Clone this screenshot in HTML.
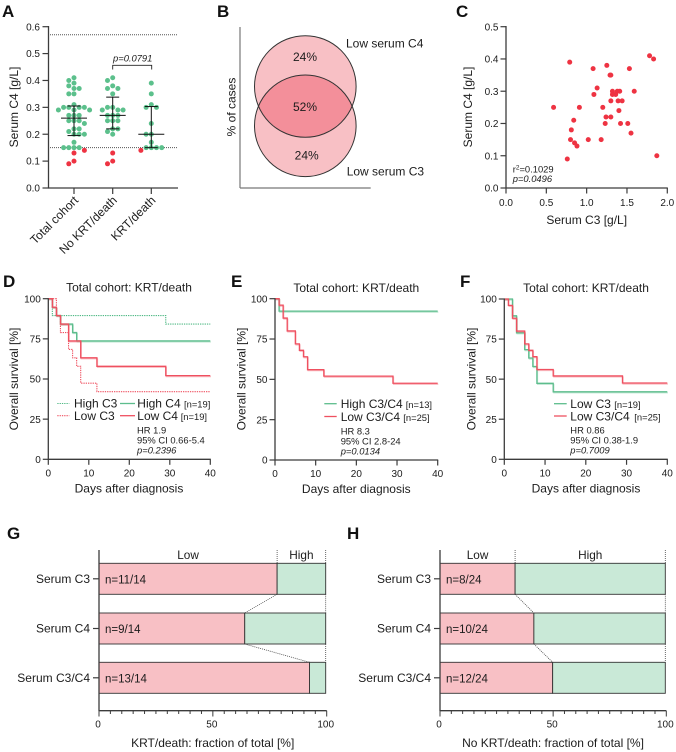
<!DOCTYPE html>
<html lang="en">
<head>
<meta charset="utf-8">
<title>Serum C3 and C4 figure</title>
<style>
html,body{margin:0;padding:0;background:#fff;}
svg{display:block;font-family:"Liberation Sans",Arial,sans-serif;fill:#1c1c1c;}
.letter{font-size:17px;font-weight:bold;fill:#111;}
.t12{font-size:12px;}
.t9{font-size:9.4px;}
.it{font-style:italic;}
</style>
</head>
<body>
<svg id="fig" width="676" height="752" viewBox="0 0 676 752" xmlns="http://www.w3.org/2000/svg">
  <text class="letter" x="2" y="17">A</text>
  <text class="letter" x="217" y="17">B</text>
  <text class="letter" x="456" y="17">C</text>
  <text class="letter" x="3" y="287">D</text>
  <text class="letter" x="231" y="287">E</text>
  <text class="letter" x="460" y="287">F</text>
  <text class="letter" x="7" y="539">G</text>
  <text class="letter" x="347" y="539">H</text>

  <g id="panel-a">
    <text class="t12" transform="translate(18,107) rotate(-90)" text-anchor="middle">Serum C4 [g/L]</text>
    <text class="t9 it" x="132.7" y="61.5" text-anchor="middle">p=0.0791</text>
  </g>

  <g id="panel-b">
    <text class="t12" transform="translate(235.5,107) rotate(-90)" text-anchor="middle">% of cases</text>
    <line x1="240" y1="27" x2="240" y2="188" stroke="#777" stroke-width="1.2"/>
    <line x1="240" y1="188" x2="370.7" y2="188" stroke="#777" stroke-width="1.2"/>
    <circle cx="305.3" cy="86.5" r="50.8" fill="#f8c0c5"/>
    <circle cx="305.3" cy="125.8" r="50.8" fill="#f8c0c5"/>
    <clipPath id="vennClip"><circle cx="305.3" cy="86.5" r="50.8"/></clipPath>
    <circle cx="305.3" cy="125.8" r="50.8" fill="#f38f9a" clip-path="url(#vennClip)"/>
    <circle cx="305.3" cy="86.5" r="50.8" fill="none" stroke="#333" stroke-width="1"/>
    <circle cx="305.3" cy="125.8" r="50.8" fill="none" stroke="#333" stroke-width="1"/>
    <text class="t12" x="305" y="61" text-anchor="middle">24%</text>
    <text class="t12" x="305" y="111" text-anchor="middle">52%</text>
    <text class="t12" x="306.7" y="159.5" text-anchor="middle">24%</text>
    <text class="t12" x="346" y="47.5">Low serum C4</text>
    <text class="t12" x="346.7" y="175.5">Low serum C3</text>
  </g>

  <g id="panel-c">
    <text class="t12" transform="translate(472,107) rotate(-90)" text-anchor="middle">Serum C4 [g/L]</text>
    <text class="t12" x="586.7" y="224" text-anchor="middle">Serum C3 [g/L]</text>
    <text class="t9" x="512.7" y="172.5">r<tspan dy="-3" font-size="6.5">2</tspan><tspan dy="3">=0.1029</tspan></text>
    <text class="t9 it" x="512.7" y="182">p=0.0496</text>
  </g>

  <g id="panel-d">
    <text class="t12" x="129" y="291.5" text-anchor="middle">Total cohort: KRT/death</text>
    <text class="t12" transform="translate(18,379) rotate(-90)" text-anchor="middle">Overall survival [%]</text>
    <text class="t12" x="129" y="492.5" text-anchor="middle">Days after diagnosis</text>
    <line x1="57.3" y1="403.5" x2="69.3" y2="403.5" stroke="#4fb985" stroke-width="1.1" stroke-dasharray="1.3 1"/>
    <text class="t12" x="74" y="407.5">High C3</text>
    <line x1="120" y1="403.5" x2="135" y2="403.5" stroke="#5dbd8d" stroke-width="1.3"/>
    <text class="t12" x="137.3" y="407.5">High C4</text>
    <text class="t9" x="184" y="407.5">[n=19]</text>
    <line x1="57.3" y1="415.7" x2="69.3" y2="415.7" stroke="#ef5060" stroke-width="1.1" stroke-dasharray="1.3 1"/>
    <text class="t12" x="74" y="420">Low C3</text>
    <line x1="120" y1="415.7" x2="135" y2="415.7" stroke="#ef5060" stroke-width="1.3"/>
    <text class="t12" x="137.3" y="420">Low C4</text>
    <text class="t9" x="180.7" y="420">[n=19]</text>
    <text class="t9" x="137" y="433.5">HR 1.9</text>
    <text class="t9" x="137" y="443.5">95% CI 0.66-5.4</text>
    <text class="t9 it" x="137" y="453.5">p=0.2396</text>
  </g>

  <g id="panel-e">
    <text class="t12" x="356.3" y="292" text-anchor="middle">Total cohort: KRT/death</text>
    <text class="t12" transform="translate(245.5,379) rotate(-90)" text-anchor="middle">Overall survival [%]</text>
    <text class="t12" x="356.3" y="493" text-anchor="middle">Days after diagnosis</text>
    <line x1="324.3" y1="403.7" x2="336.7" y2="403.7" stroke="#5dbd8d" stroke-width="1.3"/>
    <text class="t12" x="340.7" y="408">High C3/C4</text>
    <text class="t9" x="405.7" y="408">[n=13]</text>
    <line x1="324.3" y1="416.5" x2="336.7" y2="416.5" stroke="#ef5060" stroke-width="1.3"/>
    <text class="t12" x="340.7" y="421">Low C3/C4</text>
    <text class="t9" x="403.3" y="421">[n=25]</text>
    <text class="t9" x="340.7" y="434.3">HR 8.3</text>
    <text class="t9" x="340.7" y="444.3">95% CI 2.8-24</text>
    <text class="t9 it" x="340.7" y="454.3">p=0.0134</text>
  </g>

  <g id="panel-f">
    <text class="t12" x="586" y="292" text-anchor="middle">Total cohort: KRT/death</text>
    <text class="t12" transform="translate(475.5,379) rotate(-90)" text-anchor="middle">Overall survival [%]</text>
    <text class="t12" x="586" y="492.5" text-anchor="middle">Days after diagnosis</text>
    <line x1="554" y1="403.7" x2="566.7" y2="403.7" stroke="#5dbd8d" stroke-width="1.3"/>
    <text class="t12" x="570.3" y="408">Low C3</text>
    <text class="t9" x="614.3" y="408">[n=19]</text>
    <line x1="554" y1="416" x2="566.7" y2="416" stroke="#ef5060" stroke-width="1.3"/>
    <text class="t12" x="570.3" y="420.3">Low C3/C4</text>
    <text class="t9" x="634.3" y="420.3">[n=25]</text>
    <text class="t9" x="570.3" y="433.5">HR 0.86</text>
    <text class="t9" x="570.3" y="443.5">95% CI 0.38-1.9</text>
    <text class="t9 it" x="570.3" y="453.5">p=0.7009</text>
  </g>

  <g id="panel-g">
    <text class="t12" x="212.7" y="747" text-anchor="middle">KRT/death: fraction of total [%]</text>
  </g>
  <g id="panel-h">
    <text class="t12" x="553" y="747" text-anchor="middle">No KRT/death: fraction of total [%]</text>
  </g>
</svg>

<script>
// Panel A data
const aCategories = ['Total cohort', 'No KRT/death', 'KRT/death'];
const aTicks = [0, 0.1, 0.2, 0.3, 0.4, 0.5, 0.6];
const aTotal = [0.41,0.40,0.39,0.38,0.37,0.37,0.35,0.35,0.31,0.30,0.30,0.30,0.30,0.29,0.29,0.29,0.27,0.27,0.27,0.25,0.25,0.25,0.24,0.22,0.22,0.21,0.20,0.20,0.20,0.17,0.15,0.15,0.15,0.15,0.14,0.13,0.10,0.09];
const aNoKrt = [0.41,0.40,0.38,0.37,0.37,0.35,0.30,0.30,0.29,0.29,0.29,0.27,0.27,0.27,0.25,0.25,0.25,0.22,0.22,0.21,0.20,0.13,0.10,0.09];
const aKrt = [0.39,0.35,0.31,0.30,0.30,0.24,0.20,0.20,0.17,0.15,0.15,0.15,0.15,0.14];
const aMedians = [0.26, 0.27, 0.20];
const aUpper = [0.305, 0.338, 0.303];
const aLower = [0.195, 0.22, 0.15];
const aRefLines = [0.57, 0.15];
const aLowThreshold = 0.15;

// Panel C data
const cTicksX = [0, 0.5, 1, 1.5, 2];
const cTicksY = [0, 0.1, 0.2, 0.3, 0.4, 0.5];
const cC3 = [1.78,1.83,0.79,1.25,1.08,1.53,1.29,1.30,1.13,1.59,1.32,1.38,1.41,1.09,1.32,1.36,1.30,1.39,1.44,0.59,0.91,1.20,1.40,1.24,1.30,0.84,1.23,1.42,1.51,0.81,1.55,0.80,1.02,1.18,0.85,0.88,1.87,0.76];
const cC4 = [0.41,0.40,0.39,0.38,0.37,0.37,0.35,0.35,0.31,0.30,0.30,0.30,0.30,0.29,0.29,0.29,0.27,0.27,0.27,0.25,0.25,0.25,0.24,0.22,0.22,0.21,0.20,0.20,0.20,0.18,0.17,0.15,0.15,0.15,0.14,0.13,0.10,0.09];

// Survival data
const kmTicksX = [0, 10, 20, 30, 40];
const kmTicksY = [0, 25, 50, 75, 100];
const dHighC3Days = [0,1,29,40];
const dHighC3Surv = [100,89.5,84.2,84.2];
const dLowC3Days = [0,2,3,5,6,7,8,12,40];
const dLowC3Surv = [100,89.5,78.9,68.4,63.2,57.9,47.4,42.1,42.1];
const dHighC4Days = [0,1,2,3,6,7,40];
const dHighC4Surv = [100,94.7,89.5,84.2,78.9,73.7,73.7];
const dLowC4Days = [0,1,2,3,5,8,12,29,40];
const dLowC4Surv = [100,94.7,89.5,84.2,73.7,63.2,57.9,52.1,52.1];
const eHighDays = [0,1,40];
const eHighSurv = [100,92.3,92.3];
const lowC3C4Days = [0,1,2,3,5,6,7,8,12,29,40];
const lowC3C4Surv = [100,96,88,80,72,68,64,56,52,47.6,47.6];
const fLowC3Days = [0,2,3,5,6,7,8,12,40];
const fLowC3Surv = [100,89.5,78.9,68.4,63.2,57.9,47.4,42.1,42.1];

// Stacked bar data
const barRows = ['Serum C3', 'Serum C4', 'Serum C3/C4'];
const barTicks = [0, 50, 100];
const gLow = [11, 9, 13];
const gTotal = 14;
const hLow = [8, 10, 12];
const hTotal = 24;

const NS = 'http://www.w3.org/2000/svg';
const AXIS = '#3c3c3c';
const GREEN = '#5dbd8d';
const RED = '#ef5060';
const DOT_GREEN = '#5cc08c';
const DOT_RED = '#ee3342';

function mk(parent, tag, attrs, name) {
  const el = document.createElementNS(NS, tag);
  for (const k in attrs) el.setAttribute(k, attrs[k]);
  
  
  parent.appendChild(el);
  return el;
}
function seg(p, x1, y1, x2, y2, stroke, w, name, dash) {
  const a = {x1: x1, y1: y1, x2: x2, y2: y2, stroke: stroke, 'stroke-width': w};
  if (dash) a['stroke-dasharray'] = dash;
  return mk(p, 'line', a, name);
}
function label(p, x, y, s, size, anchor, name) {
  const el = mk(p, 'text', {x: x, y: y, 'font-size': size, 'text-anchor': anchor}, name);
  el.textContent = s;
  return el;
}
function linear(d0, d1, r0, r1) {
  return function (v) { return r0 + (v - d0) * (r1 - r0) / (d1 - d0); };
}

/* Panel A */
(function () {
  const g = document.getElementById('panel-a');
  const y = linear(0, 0.6, 188, 26.7);
  const centers = [74, 112.7, 151.3];
  aRefLines.forEach(function (v) {
    seg(g, 50, y(v), 178, y(v), '#555', 1, 'reference-line', '1 1');
  });
  seg(g, 48.5, 26, 48.5, 188.5, AXIS, 1.3, 'y-axis');
  seg(g, 48, 188, 178, 188, AXIS, 1.3, 'x-axis');
  aTicks.forEach(function (v) {
    seg(g, 42.5, y(v), 48.5, y(v), AXIS, 1.2, 'y-tick');
    label(g, 40, y(v) + 3.6, v.toFixed(1), 10, 'end', 'y-tick-label');
  });
  [aTotal, aNoKrt, aKrt].forEach(function (vals, i) {
    const cx = centers[i];
    seg(g, cx, 188, cx, 194, AXIS, 1.2, 'x-tick');
    const lab = label(g, cx + 5, 201, aCategories[i], 12, 'end', 'x-tick-label');
    lab.setAttribute('transform', 'rotate(-45 ' + (cx + 5) + ' 201)');
    const placed = [];
    vals.slice().sort(function (a, b) { return b - a; }).forEach(function (v, n) {
      const py = y(v);
      const side = n % 2 ? -1 : 1;
      let off = 0;
      for (let k = 0; k < 40; k++) {
        const cand = k === 0 ? 0 : (k % 2 ? side : -side) * Math.ceil(k / 2) * 2.6;
        const hit = placed.some(function (q) {
          return Math.hypot(q[0] - cand, q[1] - py) < 4.9;
        });
        if (!hit) { off = cand; break; }
      }
      placed.push([off, py]);
      mk(g, 'circle', {cx: cx + off, cy: py, r: 2.5, fill: v < aLowThreshold ? DOT_RED : DOT_GREEN}, 'data-point');
    });
    seg(g, cx - 13, y(aMedians[i]), cx + 13, y(aMedians[i]), '#111', 1, 'median-line');
    seg(g, cx, y(aUpper[i]), cx, y(aLower[i]), '#111', 1, 'error-bar');
    seg(g, cx - 6.5, y(aUpper[i]), cx + 6.5, y(aUpper[i]), '#111', 1, 'error-cap-upper');
    seg(g, cx - 6.5, y(aLower[i]), cx + 6.5, y(aLower[i]), '#111', 1, 'error-cap-lower');
  });
  mk(g, 'path', {d: 'M112.7 69.5V65.3H151.7V69.5', fill: 'none', stroke: '#222', 'stroke-width': 0.9}, 'significance-bracket');
})();

/* Panel C */
(function () {
  const g = document.getElementById('panel-c');
  const x = linear(0, 2, 506, 667.3);
  const y = linear(0, 0.5, 188, 26.7);
  seg(g, 506, 26, 506, 188.5, AXIS, 1.3, 'y-axis');
  seg(g, 505.5, 188, 667.8, 188, AXIS, 1.3, 'x-axis');
  cTicksX.forEach(function (v) {
    seg(g, x(v), 188, x(v), 193.5, AXIS, 1.2, 'x-tick');
    label(g, x(v), 206, v.toFixed(1), 10, 'middle', 'x-tick-label');
  });
  cTicksY.forEach(function (v) {
    seg(g, 500.5, y(v), 506, y(v), AXIS, 1.2, 'y-tick');
    label(g, 498.5, y(v) + 3.6, v.toFixed(1), 10, 'end', 'y-tick-label');
  });
  cC3.forEach(function (v, i) {
    mk(g, 'circle', {cx: x(v), cy: y(cC4[i]), r: 2.5, fill: DOT_RED}, 'data-point');
  });
})();

/* Survival panels */
function kmPanel(id, x0, x40, y100, y0, series) {
  const g = document.getElementById(id);
  const x = linear(0, 40, x0, x40);
  const y = linear(0, 100, y0, y100);
  series.forEach(function (s) {
    let d = 'M' + x(s.days[0]) + ' ' + y(s.surv[0]);
    for (let i = 1; i < s.days.length; i++) {
      d += 'H' + x(s.days[i]) + 'V' + y(s.surv[i]);
    }
    if (!s.dash) {
      mk(g, 'path', {d: d, fill: 'none', stroke: s.color, 'stroke-width': 1.2, opacity: 0.4, transform: 'translate(0.6,1)'}, s.name + '-halo');
    }
    const a = {d: d, fill: 'none', stroke: s.color, 'stroke-width': s.dash ? 1.1 : 1.3};
    if (s.dash) a['stroke-dasharray'] = s.dash;
    mk(g, 'path', a, s.name);
  });
  seg(g, x0, y100 - 0.5, x0, y0 + 0.6, AXIS, 1.3, 'y-axis');
  seg(g, x0 - 0.5, y0, x40 + 0.5, y0, AXIS, 1.3, 'x-axis');
  kmTicksX.forEach(function (v) {
    seg(g, x(v), y0, x(v), y0 + 5.5, AXIS, 1.2, 'x-tick');
    label(g, x(v), y0 + 17, String(v), 10, 'middle', 'x-tick-label');
  });
  kmTicksY.forEach(function (v) {
    seg(g, x0 - 5.5, y(v), x0, y(v), AXIS, 1.2, 'y-tick');
    label(g, x0 - 7.5, y(v) + 3.6, String(v), 10, 'end', 'y-tick-label');
  });
}
kmPanel('panel-d', 48.3, 210.3, 298.7, 459.3, [
  {days: dHighC3Days, surv: dHighC3Surv, color: '#4fb985', dash: '1.3 1', name: 'curve-high-c3'},
  {days: dLowC3Days, surv: dLowC3Surv, color: RED, dash: '1.3 1', name: 'curve-low-c3'},
  {days: dHighC4Days, surv: dHighC4Surv, color: GREEN, name: 'curve-high-c4'},
  {days: dLowC4Days, surv: dLowC4Surv, color: RED, name: 'curve-low-c4'}
]);
kmPanel('panel-e', 275, 437.7, 298.7, 460, [
  {days: eHighDays, surv: eHighSurv, color: GREEN, name: 'curve-high-c3c4'},
  {days: lowC3C4Days, surv: lowC3C4Surv, color: RED, name: 'curve-low-c3c4'}
]);
kmPanel('panel-f', 504.3, 667.3, 299, 459.3, [
  {days: fLowC3Days, surv: fLowC3Surv, color: GREEN, name: 'curve-low-c3'},
  {days: lowC3C4Days, surv: lowC3C4Surv, color: RED, name: 'curve-low-c3c4'}
]);

/* Stacked bar panels */
function barPanel(id, x0, x100, lowCounts, total) {
  const g = document.getElementById(id);
  const x = linear(0, 100, x0, x100);
  const tops = [563.3, 613, 662.3];
  const h = 31;
  const frac = lowCounts.map(function (c) { return c / total * 100; });
  const lowX = frac.map(x);
  const DOT = '#444';

  seg(g, lowX[0], 550, lowX[0], tops[0], DOT, 0.8, 'low-divider-top', '1 1');
  seg(g, x100, 550, x100, tops[0], DOT, 0.8, 'high-divider-top', '1 1');
  label(g, (x0 + lowX[0]) / 2, 559, 'Low', 11.8, 'middle', 'low-header');
  label(g, (lowX[0] + x100) / 2, 559, 'High', 11.8, 'middle', 'high-header');

  barRows.forEach(function (name, i) {
    const t = tops[i];
    mk(g, 'rect', {x: x0, y: t, width: lowX[i] - x0, height: h, fill: '#f8c0c5', stroke: '#333', 'stroke-width': 0.9}, 'bar-low');
    mk(g, 'rect', {x: lowX[i], y: t, width: x100 - lowX[i], height: h, fill: '#c9e9d7', stroke: '#333', 'stroke-width': 0.9}, 'bar-high');
    label(g, x0 + 6, t + 20, 'n=' + lowCounts[i] + '/' + total, 11.5, 'start', 'bar-count-label');
    seg(g, x0 - 6, t + h / 2, x0, t + h / 2, AXIS, 1.2, 'y-tick');
    label(g, x0 - 9, t + h / 2 + 4, name, 12, 'end', 'y-tick-label');
    if (i > 0) {
      seg(g, lowX[i - 1], tops[i - 1] + h, lowX[i], t, DOT, 0.8, 'low-connector', '1 1');
      seg(g, x100, tops[i - 1] + h, x100, t, DOT, 0.8, 'high-connector', '1 1');
    }
  });

  seg(g, x0, 550, x0, 711, AXIS, 1.3, 'y-axis');
  seg(g, x0 - 0.5, 710.7, x100 + 1, 710.7, AXIS, 1.3, 'x-axis');
  for (let v = 0; v <= 100; v += 5) {
    const major = barTicks.indexOf(v) >= 0;
    seg(g, x(v) + v * 0.01, 710.7, x(v) + v * 0.01, major ? 716.5 : 714, AXIS, 1, major ? 'x-tick' : 'x-minor-tick');
  }
  barTicks.forEach(function (v) {
    label(g, x(v) + v * 0.01 - 1, 727.5, String(v), 10, 'middle', 'x-tick-label');
  });
}
barPanel('panel-g', 99, 325.7, gLow, gTotal);
barPanel('panel-h', 440, 665.3, hLow, hTotal);
</script>
</body>
</html>
